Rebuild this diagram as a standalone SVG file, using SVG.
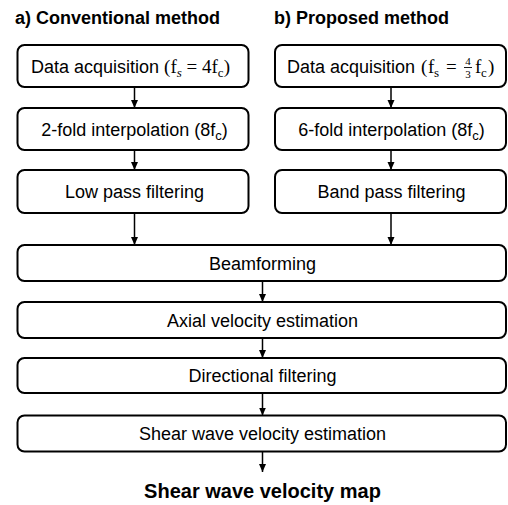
<svg xmlns="http://www.w3.org/2000/svg" width="508" height="505" viewBox="0 0 508 505">
<style>
.box{fill:#fff;stroke:#000;stroke-width:2}
.t{font-family:"Liberation Sans",Arial,sans-serif;font-size:18px;fill:#000}
.m{font-family:"Liberation Serif","Times New Roman",serif;font-size:19px;fill:#000}
.sb{font-size:13px}
.fr{font-family:"Liberation Serif","Times New Roman",serif;font-size:11px;fill:#000;text-anchor:middle}
.h{font-family:"Liberation Sans",Arial,sans-serif;font-weight:bold;font-size:18px;fill:#000}
.hb{font-family:"Liberation Sans",Arial,sans-serif;font-weight:bold;font-size:20px;fill:#000}
.c{text-anchor:middle}
.ln{stroke:#000;stroke-width:1.5;fill:none;marker-end:url(#ah)}
</style>
<defs>
<marker id="ah" markerUnits="userSpaceOnUse" markerWidth="8" markerHeight="8" viewBox="0 0 8 8" refX="8" refY="4" orient="auto">
<path d="M0,0.5 L8,4 L0,7.5 Z" fill="#000"/>
</marker>
</defs>
<rect width="508" height="505" fill="#fff"/>
<text class="h" x="15" y="24">a) Conventional method</text>
<text class="h" x="274" y="24">b) Proposed method</text>
<g id="connectors">
<path class="ln" d="M134.5,87 V108"/>
<path class="ln" d="M134.5,150 V170"/>
<path class="ln" d="M134.5,213 V245"/>
<path class="ln" d="M391,87 V108"/>
<path class="ln" d="M391,150 V170"/>
<path class="ln" d="M391,213 V245"/>
<path class="ln" d="M262.5,281 V302"/>
<path class="ln" d="M262.5,338 V358"/>
<path class="ln" d="M262.5,393 V415.5"/>
<path class="ln" d="M262.5,451.5 V472"/>
</g>
<g id="conv-acq">
<rect class="box" x="17.5" y="45" width="231" height="42" rx="7"/>
<text class="t" x="31" y="72.5">Data acquisition <tspan class="m">(f<tspan class="sb" font-style="italic" dy="4">s</tspan><tspan dy="-4"> = 4f</tspan><tspan class="sb" dy="4">c</tspan><tspan dy="-4">)</tspan></tspan></text>
</g>
<g id="conv-interp">
<rect class="box" x="17.5" y="108" width="231" height="42" rx="7"/>
<text class="t c" x="134.5" y="135.5">2-fold interpolation (8f<tspan class="sb" dy="4">c</tspan><tspan dy="-4">)</tspan></text>
</g>
<g id="conv-filter">
<rect class="box" x="17.5" y="170" width="231" height="43" rx="7"/>
<text class="t c" x="134.5" y="198">Low pass filtering</text>
</g>
<g id="prop-acq">
<rect class="box" x="275" y="45" width="231" height="42" rx="7"/>
<text class="t" x="287" y="72.5">Data acquisition </text>
<text class="m" x="421" y="72.5">(</text>
<text class="m" x="428" y="72.5">f</text>
<text class="m sb" x="434" y="76.5">s</text>
<text class="m" x="446" y="72.5">=</text>
<text class="fr" x="468" y="65">4</text>
<path d="M464,67.5 H472" stroke="#000" stroke-width="0.9"/>
<text class="fr" x="468" y="77.5">3</text>
<text class="m" x="475" y="72.5">f</text>
<text class="m sb" x="481" y="76.5">c</text>
<text class="m" x="488" y="72.5">)</text>
</g>
<g id="prop-interp">
<rect class="box" x="275" y="108" width="231" height="42" rx="7"/>
<text class="t c" x="391.5" y="135.5">6-fold interpolation (8f<tspan class="sb" dy="4">c</tspan><tspan dy="-4">)</tspan></text>
</g>
<g id="prop-filter">
<rect class="box" x="275" y="170" width="231" height="43" rx="7"/>
<text class="t c" x="391.5" y="198">Band pass filtering</text>
</g>
<g id="beamforming">
<rect class="box" x="17.5" y="245" width="488.5" height="36" rx="7"/>
<text class="t c" x="262.5" y="269.5">Beamforming</text>
</g>
<g id="axial">
<rect class="box" x="17.5" y="302" width="488.5" height="36" rx="7"/>
<text class="t c" x="262.5" y="326.5">Axial velocity estimation</text>
</g>
<g id="directional">
<rect class="box" x="17.5" y="358" width="488.5" height="35" rx="7"/>
<text class="t c" x="262.5" y="382">Directional filtering</text>
</g>
<g id="shear">
<rect class="box" x="17.5" y="415.5" width="488.5" height="36" rx="7"/>
<text class="t c" x="262.5" y="440">Shear wave velocity estimation</text>
</g>
<text class="hb c" x="262.5" y="498">Shear wave velocity map</text>
</svg>
